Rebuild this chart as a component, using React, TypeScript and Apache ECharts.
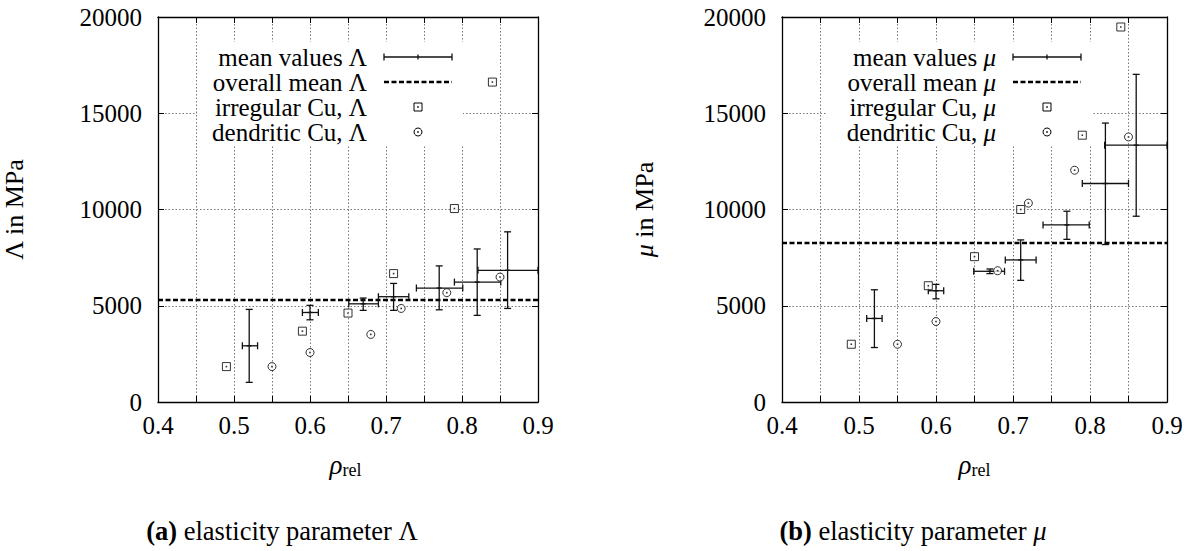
import React, { useEffect, useRef } from "react";
import * as echarts from "echarts";

// ---- Data: elasticity parameter Λ (MPa) ----
const lamIrrX = [0.49, 0.59, 0.65, 0.71, 0.79, 0.84];
const lamIrrY = [1840, 3680, 4620, 6670, 10050, 16620];
const lamDenX = [0.55, 0.6, 0.68, 0.72, 0.78, 0.85];
const lamDenY = [1840, 2570, 3510, 4860, 5680, 6490];
const lamMeanX = [0.52, 0.6, 0.67, 0.71, 0.77, 0.82, 0.86];
const lamMeanY = [2920, 4650, 5100, 5470, 5920, 6230, 6840];
const lamXLo = [0.511, 0.59, 0.651, 0.69, 0.74, 0.79, 0.821];
const lamXHi = [0.531, 0.611, 0.69, 0.73, 0.801, 0.851, 0.9];
const lamYLo = [1020, 4270, 4760, 4760, 4790, 4500, 4860];
const lamYHi = [4810, 5020, 5400, 6160, 7070, 7950, 8840];
const lamOverall = 5300;

// ---- Data: elasticity parameter μ (MPa) ----
const muIrrX = [0.49, 0.59, 0.65, 0.71, 0.79, 0.84];
const muIrrY = [3000, 6040, 7550, 10000, 13860, 19480];
const muDenX = [0.55, 0.6, 0.68, 0.72, 0.78, 0.85];
const muDenY = [3000, 4180, 6820, 10330, 12040, 13770];
const muMeanX = [0.52, 0.6, 0.67, 0.71, 0.77, 0.82, 0.86];
const muMeanY = [4340, 5780, 6790, 7380, 9200, 11350, 13340];
const muXLo = [0.51, 0.59, 0.649, 0.69, 0.739, 0.79, 0.819];
const muXHi = [0.53, 0.61, 0.689, 0.73, 0.799, 0.85, 0.9];
const muYLo = [2830, 5360, 6670, 6320, 8450, 8180, 9650];
const muYHi = [5830, 6110, 6910, 8420, 9910, 14490, 17020];
const muOverall = 8260;

const lamLegend = ["mean values Λ", "overall mean Λ", "irregular Cu, Λ", "dendritic Cu, Λ"];
const muLegend = ["mean values {i|μ}", "overall mean {i|μ}", "irregular Cu, {i|μ}", "dendritic Cu, {i|μ}"];

const FONT = "Liberation Serif, Times New Roman, serif";
const FS = 25;
const GRID_TOP = 17;
const GRID_SIZE = 385;
const LEFT_A = 153;
const LEFT_B = 782;

function errorBars(mx: number[], my: number[], xl: number[], xh: number[], yl: number[], yh: number[], idx: number) {
  const data = mx.map((x, i) => [x, my[i], xl[i], xh[i], yl[i], yh[i]]);
  return {
    type: "custom",
    xAxisIndex: idx,
    yAxisIndex: idx,
    clip: true,
    z: 4,
    data,
    encode: { x: 0, y: 1 },
    renderItem: (params: any, api: any) => {
      const c = api.coord([api.value(0), api.value(1)]);
      const l = api.coord([api.value(2), api.value(1)]);
      const r = api.coord([api.value(3), api.value(1)]);
      const b = api.coord([api.value(0), api.value(4)]);
      const t = api.coord([api.value(0), api.value(5)]);
      const cap = 3.5;
      const style = { stroke: "#111", lineWidth: 1.3, fill: null };
      const ln = (x1: number, y1: number, x2: number, y2: number) => ({
        type: "line",
        shape: { x1, y1, x2, y2 },
        style,
      });
      return {
        type: "group",
        children: [
          ln(l[0], c[1], r[0], c[1]),
          ln(l[0], c[1] - cap, l[0], c[1] + cap),
          ln(r[0], c[1] - cap, r[0], c[1] + cap),
          ln(c[0], b[1], c[0], t[1]),
          ln(c[0] - cap, b[1], c[0] + cap, b[1]),
          ln(c[0] - cap, t[1], c[0] + cap, t[1]),
          ln(c[0] - 2.5, c[1], c[0] + 2.5, c[1]),
        ],
      };
    },
  };
}

function pointSeries(xs: number[], ys: number[], symbol: string, idx: number) {
  const data = xs.map((x, i) => [x, ys[i]]);
  return [
    {
      type: "scatter",
      xAxisIndex: idx,
      yAxisIndex: idx,
      symbol,
      symbolSize: 8,
      z: 5,
      itemStyle: { color: "#fff", borderColor: "#000", borderWidth: 1 },
      data,
    },
    {
      type: "scatter",
      xAxisIndex: idx,
      yAxisIndex: idx,
      symbol: "rect",
      symbolSize: 1.6,
      z: 6,
      itemStyle: { color: "#000" },
      data,
    },
  ];
}

function meanLine(m: number, idx: number) {
  return {
    type: "line",
    xAxisIndex: idx,
    yAxisIndex: idx,
    showSymbol: false,
    z: 3,
    lineStyle: { color: "#000", width: 2.5, type: [5, 2.5] },
    data: [
      [0.4, m],
      [0.9, m],
    ],
  };
}

function xAxes(gridIndex: number) {
  const common = {
    type: "value",
    gridIndex,
    min: 0.4,
    max: 0.9,
    interval: 0.05,
    axisLine: { show: true, onZero: false, lineStyle: { color: "#000", width: 1.3 } },
    axisTick: { show: true, inside: true, length: 6, lineStyle: { color: "#000", width: 1 } },
  };
  return [
    {
      ...common,
      position: "bottom",
      splitLine: { show: true, lineStyle: { color: "#777", type: [1.5, 2], width: 1 } },
      axisLabel: {
        show: true,
        margin: 11,
        color: "#000",
        fontFamily: FONT,
        fontSize: FS,
        showMinLabel: true,
        showMaxLabel: true,
        formatter: (v: number) => {
          const k = Math.round(v * 20);
          return k % 2 === 0 ? (k / 20).toFixed(1) : "";
        },
      },
    },
    {
      ...common,
      position: "top",
      splitLine: { show: false },
      axisLabel: { show: false },
    },
  ];
}

function yAxes(gridIndex: number, name: string) {
  const common = {
    type: "value",
    gridIndex,
    min: 0,
    max: 20000,
    interval: 5000,
    axisLine: { show: true, onZero: false, lineStyle: { color: "#000", width: 1.3 } },
    axisTick: { show: true, inside: true, length: 6, lineStyle: { color: "#000", width: 1 } },
  };
  return [
    {
      ...common,
      position: "left",
      name,
      nameLocation: "middle",
      nameRotate: 90,
      nameGap: gridIndex === 0 ? 131 : 125,
      nameTextStyle: {
        color: "#000",
        fontFamily: FONT,
        fontSize: 26,
        rich: { i: { fontFamily: FONT, fontSize: 26, fontStyle: "italic", color: "#000" } },
      },
      splitLine: { show: true, lineStyle: { color: "#777", type: [1.5, 2], width: 1 } },
      axisLabel: {
        show: true,
        margin: 16,
        color: "#000",
        fontFamily: FONT,
        fontSize: FS,
        formatter: (v: number) => String(v),
      },
    },
    {
      ...common,
      position: "right",
      splitLine: { show: false },
      axisLabel: { show: false },
    },
  ];
}

function legendGraphics(left: number, labels: string[]) {
  const rows = [57, 82, 107, 132];
  const textRight = left + 214;
  const sL = left + 231;
  const sR = left + 299;
  const sC = left + 265;
  const els: any[] = [];
  els.push({
    type: "rect",
    z: 1,
    shape: { x: left + 44, y: 42, width: 266, height: 104 },
    style: { fill: "#fff", stroke: null },
  });
  labels.forEach((lab, i) => {
    els.push({
      type: "text",
      z: 10,
      x: textRight,
      y: rows[i],
      style: {
        text: lab,
        fill: "#000",
        fontFamily: FONT,
        fontSize: FS,
        align: "right",
        verticalAlign: "middle",
        rich: { i: { fontFamily: FONT, fontSize: FS, fontStyle: "italic", fill: "#000" } },
      },
    });
  });
  const st = { stroke: "#111", lineWidth: 1.3 };
  const y0 = rows[0];
  els.push({ type: "line", z: 10, shape: { x1: sL, y1: y0, x2: sR, y2: y0 }, style: st });
  els.push({ type: "line", z: 10, shape: { x1: sL, y1: y0 - 3.5, x2: sL, y2: y0 + 3.5 }, style: st });
  els.push({ type: "line", z: 10, shape: { x1: sR, y1: y0 - 3.5, x2: sR, y2: y0 + 3.5 }, style: st });
  els.push({ type: "line", z: 10, shape: { x1: sC, y1: y0 - 2.5, x2: sC, y2: y0 + 2.5 }, style: st });
  const y1 = rows[1];
  els.push({
    type: "line",
    z: 10,
    shape: { x1: sL, y1, x2: sR, y2: y1 },
    style: { stroke: "#000", lineWidth: 2.5, lineDash: [5, 2.5] },
  });
  const y2 = rows[2];
  els.push({
    type: "rect",
    z: 10,
    shape: { x: sC - 4, y: y2 - 4, width: 8, height: 8 },
    style: { fill: "#fff", stroke: "#000", lineWidth: 1 },
  });
  els.push({ type: "rect", z: 11, shape: { x: sC - 0.8, y: y2 - 0.8, width: 1.6, height: 1.6 }, style: { fill: "#000" } });
  const y3 = rows[3];
  els.push({
    type: "circle",
    z: 10,
    shape: { cx: sC, cy: y3, r: 4 },
    style: { fill: "#fff", stroke: "#000", lineWidth: 1 },
  });
  els.push({ type: "rect", z: 11, shape: { x: sC - 0.8, y: y3 - 0.8, width: 1.6, height: 1.6 }, style: { fill: "#000" } });
  return els;
}

function xName(cx: number) {
  return {
    type: "text",
    z: 10,
    x: cx,
    y: 465,
    style: {
      text: "{r|ρ}{s|rel}",
      align: "center",
      verticalAlign: "middle",
      rich: {
        r: { fontFamily: FONT, fontSize: 27, fontStyle: "italic", fill: "#000", verticalAlign: "middle" },
        s: { fontFamily: FONT, fontSize: 18, fill: "#000", verticalAlign: "bottom", padding: [8, 0, 0, 0] },
      },
    },
  };
}

function caption(cx: number, label: string, rest: string) {
  return {
    type: "text",
    z: 10,
    x: cx,
    y: 531,
    style: {
      text: `{b|${label}}{n| elasticity parameter }${rest}`,
      align: "center",
      verticalAlign: "middle",
      rich: {
        b: { fontFamily: FONT, fontSize: 26.5, fontWeight: "bold", fill: "#000" },
        n: { fontFamily: FONT, fontSize: 26.5, fill: "#000" },
        i: { fontFamily: FONT, fontSize: 26.5, fontStyle: "italic", fill: "#000" },
        u: { fontFamily: FONT, fontSize: 26.5, fill: "#000" },
      },
    },
  };
}

export default function App() {
  const ref = useRef<HTMLDivElement>(null);
  useEffect(() => {
    if (!ref.current) return;
    const chart = echarts.init(ref.current, undefined, { renderer: "svg" });
    const option: any = {
      animation: false,
      backgroundColor: "#fff",
      textStyle: { fontFamily: FONT },
      grid: [
        { left: LEFT_A, top: GRID_TOP, width: GRID_SIZE, height: GRID_SIZE, containLabel: false },
        { left: LEFT_B, top: GRID_TOP, width: GRID_SIZE, height: GRID_SIZE, containLabel: false },
      ],
      xAxis: [...xAxes(0), ...xAxes(1)],
      yAxis: [...yAxes(0, "Λ in MPa"), ...yAxes(1, "{i|μ} in MPa")],
      series: [
        meanLine(lamOverall, 0),
        errorBars(lamMeanX, lamMeanY, lamXLo, lamXHi, lamYLo, lamYHi, 0),
        ...pointSeries(lamIrrX, lamIrrY, "rect", 0),
        ...pointSeries(lamDenX, lamDenY, "circle", 0),
        meanLine(muOverall, 2),
        errorBars(muMeanX, muMeanY, muXLo, muXHi, muYLo, muYHi, 2),
        ...pointSeries(muIrrX, muIrrY, "rect", 2),
        ...pointSeries(muDenX, muDenY, "circle", 2),
      ],
      graphic: [
        ...legendGraphics(LEFT_A, lamLegend),
        ...legendGraphics(LEFT_B, muLegend),
        xName(LEFT_A + GRID_SIZE / 2),
        xName(LEFT_B + GRID_SIZE / 2),
        caption(282, "(a)", "{u|Λ}"),
        caption(913, "(b)", "{i|μ}"),
      ],
    };
    chart.setOption(option);
    return () => chart.dispose();
  }, []);
  return (
    <div
      ref={ref}
      style={{ position: "absolute", left: 0, top: 0, width: 1195, height: 551, background: "#fff" }}
    />
  );
}
